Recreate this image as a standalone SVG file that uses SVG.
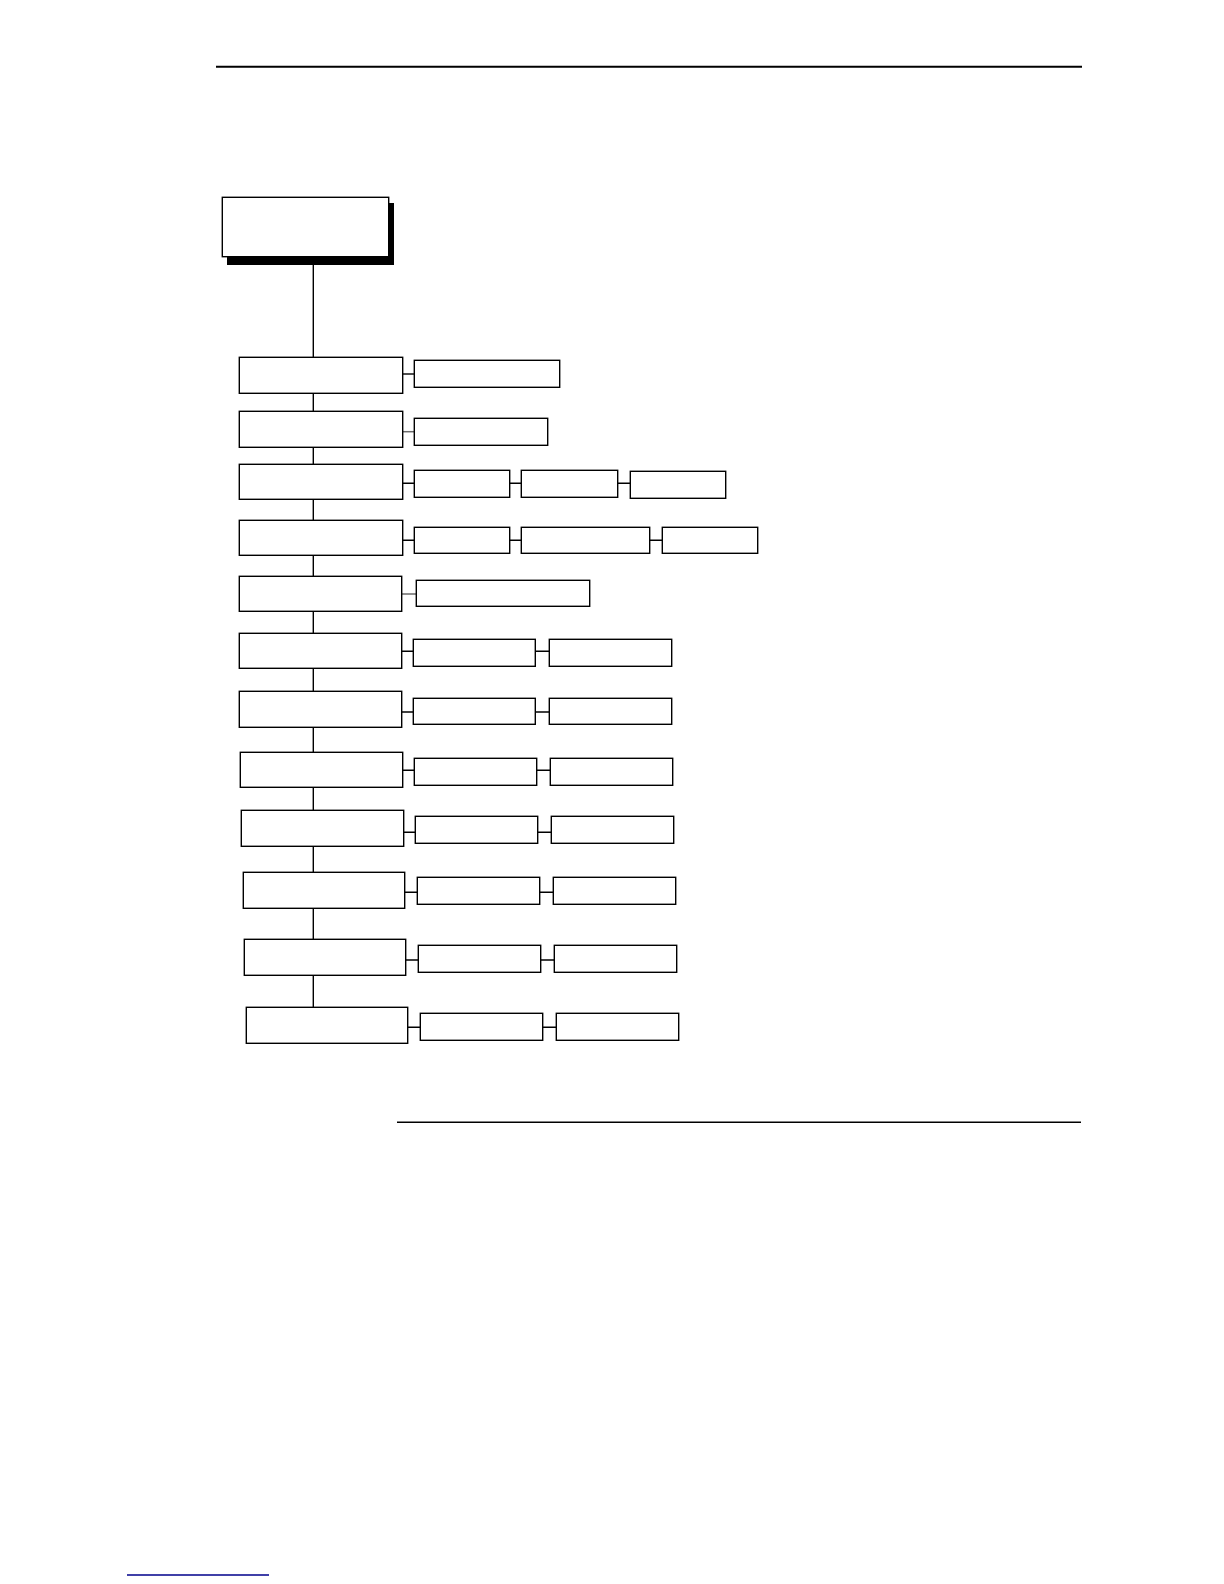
<svg xmlns="http://www.w3.org/2000/svg" width="1224" height="1584" viewBox="0 0 1224 1584">
<style>
.box{fill:#fff;stroke:#000;stroke-width:1.4}
.conn{stroke:#000;stroke-width:1.4;fill:none}
.gray{stroke:#6a6a6a;stroke-width:1.5;fill:none}
.rule{stroke:#000;fill:none}
</style>
<rect width="1224" height="1584" fill="#fff"/>
<line class="rule" x1="216" y1="66.7" x2="1082" y2="66.7" stroke-width="2"/>
<line class="rule" x1="397" y1="1122.3" x2="1081" y2="1122.3" stroke-width="1.4"/>
<line x1="127" y1="1575" x2="269" y2="1575" stroke="#00008b" stroke-width="1.4"/>
<g id="connectors">
<path class="conn" d="M313.3 256.7V357.3 M313.3 393.3V411.3 M313.3 447.3V464.3 M313.3 499.3V520.3 M313.3 555.3V576.3 M313.3 611.3V633.3 M313.3 668.3V691.3 M313.3 727.3V752.3 M313.3 787.3V810.3 M313.3 846.3V872.3 M313.3 908.3V939.3 M313.3 975.3V1007.3"/>
<path class="conn" d="M402.7 374H414.3"/>
<path class="gray" d="M402.7 431.7H414.3"/>
<path class="conn" d="M402.7 483.3H414.3 M509.7 483.3H521.3 M617.7 483.3H630.3"/>
<path class="conn" d="M402.7 540.3H414.3 M509.7 540.3H521.3 M649.7 540.3H662.3"/>
<path class="gray" d="M401.7 594H416.3"/>
<path class="conn" d="M401.7 651.3H413.3 M535.3 651.3H549.3"/>
<path class="conn" d="M401.7 712H413.3 M535.3 712H549.3"/>
<path class="conn" d="M402.7 770.3H414.3 M536.7 770.3H550.3"/>
<path class="conn" d="M403.7 832.3H415.3 M537.7 832.3H551.3"/>
<path class="conn" d="M404.7 892.3H417.3 M539.7 892.3H553.3"/>
<path class="conn" d="M405.7 960H418.3 M540.7 960H554.3"/>
<path class="conn" d="M407.7 1027.3H420.3 M542.7 1027.3H556.3"/>
</g>
<g id="root">
<rect x="227" y="203" width="167" height="62" fill="#000"/>
<rect class="box" x="222.3" y="197.3" width="166.4" height="59.4"/>
</g>
<g id="row1">
<rect class="box" x="239.3" y="357.3" width="163.4" height="36"/>
<rect class="box" x="414.3" y="360.3" width="145.4" height="27"/>
</g>
<g id="row2">
<rect class="box" x="239.3" y="411.3" width="163.4" height="36"/>
<rect class="box" x="414.3" y="418.3" width="133.4" height="27"/>
</g>
<g id="row3">
<rect class="box" x="239.3" y="464.3" width="163.4" height="35"/>
<rect class="box" x="414.3" y="470.3" width="95.4" height="27"/>
<rect class="box" x="521.3" y="470.3" width="96.4" height="27"/>
<rect class="box" x="630.3" y="471.3" width="95.4" height="27"/>
</g>
<g id="row4">
<rect class="box" x="239.3" y="520.3" width="163.4" height="35"/>
<rect class="box" x="414.3" y="527.3" width="95.4" height="26"/>
<rect class="box" x="521.3" y="527.3" width="128.4" height="26"/>
<rect class="box" x="662.3" y="527.3" width="95.4" height="26"/>
</g>
<g id="row5">
<rect class="box" x="239.3" y="576.3" width="162.4" height="35"/>
<rect class="box" x="416.3" y="580.3" width="173.4" height="26"/>
</g>
<g id="row6">
<rect class="box" x="239.3" y="633.3" width="162.4" height="35"/>
<rect class="box" x="413.3" y="639.3" width="122" height="27"/>
<rect class="box" x="549.3" y="639.3" width="122.4" height="27"/>
</g>
<g id="row7">
<rect class="box" x="239.3" y="691.3" width="162.4" height="36"/>
<rect class="box" x="413.3" y="698.3" width="122" height="26"/>
<rect class="box" x="549.3" y="698.3" width="122.4" height="26"/>
</g>
<g id="row8">
<rect class="box" x="240.3" y="752.3" width="162.4" height="35"/>
<rect class="box" x="414.3" y="758.3" width="122.4" height="27"/>
<rect class="box" x="550.3" y="758.3" width="122.4" height="27"/>
</g>
<g id="row9">
<rect class="box" x="241.3" y="810.3" width="162.4" height="36"/>
<rect class="box" x="415.3" y="816.3" width="122.4" height="27"/>
<rect class="box" x="551.3" y="816.3" width="122.4" height="27"/>
</g>
<g id="row10">
<rect class="box" x="243.3" y="872.3" width="161.4" height="36"/>
<rect class="box" x="417.3" y="877.3" width="122.4" height="27"/>
<rect class="box" x="553.3" y="877.3" width="122.4" height="27"/>
</g>
<g id="row11">
<rect class="box" x="244.3" y="939.3" width="161.4" height="36"/>
<rect class="box" x="418.3" y="945.3" width="122.4" height="27"/>
<rect class="box" x="554.3" y="945.3" width="122.4" height="27"/>
</g>
<g id="row12">
<rect class="box" x="246.3" y="1007.3" width="161.4" height="36"/>
<rect class="box" x="420.3" y="1013.3" width="122.4" height="27"/>
<rect class="box" x="556.3" y="1013.3" width="122.4" height="27"/>
</g>
</svg>
